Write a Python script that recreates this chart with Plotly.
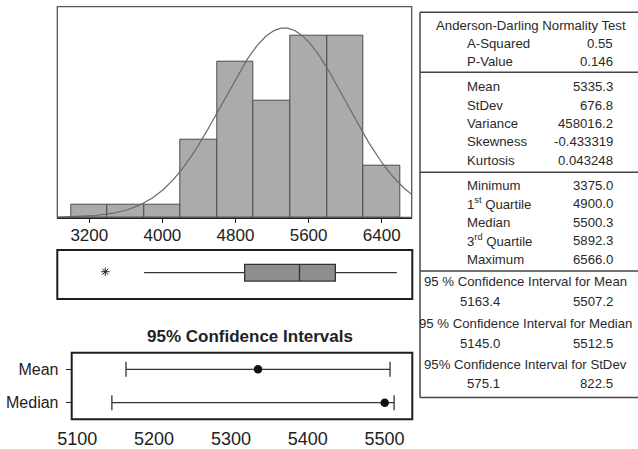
import numpy as np
import plotly.graph_objects as go

W, H = 638, 449

# ---------------- data ----------------
bin_centers = [3200, 3600, 4000, 4400, 4800, 5200, 5600, 6000, 6400]
bin_counts = [1, 1, 1, 6, 12, 9, 14, 14, 4]
bin_width = 400
hist_ticks = [3200, 4000, 4800, 5600, 6400]

n_obs = 62
mean_val = 5335.3
stdev_val = 676.8

box_q1 = 4900.0
box_median = 5500.3
box_q3 = 5892.3
box_lower_whisker = 3800.0
box_upper_whisker = 6566.0
box_outliers = [3375.0]

ci_labels = ["Mean", "Median"]
ci_center = [5335.3, 5500.3]
ci_low = [5163.4, 5145.0]
ci_high = [5507.2, 5512.5]
ci_ticks = [5100, 5200, 5300, 5400, 5500]

ad_title = "Anderson-Darling Normality Test"
ad_labels = ["A-Squared", "P-Value"]
ad_values = ["0.55", "0.146"]
moment_labels = ["Mean", "StDev", "Variance", "Skewness", "Kurtosis"]
moment_values = ["5335.3", "676.8", "458016.2", "-0.433319", "0.043248"]
quant_labels = ["Minimum", "1<sup>st</sup> Quartile", "Median", "3<sup>rd</sup> Quartile", "Maximum"]
quant_values = ["3375.0", "4900.0", "5500.3", "5892.3", "6566.0"]
ci_titles = ["95 % Confidence Interval for Mean",
             "95 % Confidence Interval for Median",
             "95% Confidence Interval for StDev"]
ci_table_low = ["5163.4", "5145.0", "575.1"]
ci_table_high = ["5507.2", "5512.5", "822.5"]

# ---------------- helpers ----------------
def px(x):
    return x / W

def py(y):
    return 1 - y / H

FONT = "Liberation Sans, Arial, sans-serif"
TXT = "#222222"

fig = go.Figure()

# histogram
fig.add_trace(go.Bar(
    x=bin_centers, y=bin_counts, width=bin_width,
    marker=dict(color="#ababab", line=dict(color="#4a4a4a", width=1)),
    xaxis="x", yaxis="y", showlegend=False, hoverinfo="skip"))

# fitted normal curve
xs = np.linspace(2850, 6730, 400)
ys = n_obs * bin_width * np.exp(-0.5 * ((xs - mean_val) / stdev_val) ** 2) / (stdev_val * np.sqrt(2 * np.pi))
fig.add_trace(go.Scatter(x=xs, y=ys, mode="lines", line=dict(color="#6a6a6a", width=1.2),
                         xaxis="x", yaxis="y", showlegend=False, hoverinfo="skip"))

# box plot
fig.add_trace(go.Box(
    y=[0], q1=[box_q1], median=[box_median], q3=[box_q3],
    lowerfence=[box_lower_whisker], upperfence=[box_upper_whisker],
    orientation="h", width=0.68, whiskerwidth=0,
    fillcolor="#8e8e8e", line=dict(color="#333333", width=1.3),
    xaxis="x2", yaxis="y2", showlegend=False, hoverinfo="skip"))
fig.add_trace(go.Scatter(
    x=box_outliers, y=[0.04] * len(box_outliers), mode="markers",
    marker=dict(symbol="asterisk-open", size=7, color="#222222", line=dict(color="#222222", width=1)),
    xaxis="x2", yaxis="y2", showlegend=False, hoverinfo="skip"))

# CI plot
fig.add_trace(go.Scatter(
    x=ci_center, y=ci_labels, mode="markers",
    marker=dict(color="#111111", size=8.5),
    error_x=dict(type="data", symmetric=False,
                 array=[h - c for h, c in zip(ci_high, ci_center)],
                 arrayminus=[c - l for c, l in zip(ci_center, ci_low)],
                 color="#333333", thickness=1.3, width=7.5),
    xaxis="x3", yaxis="y3", showlegend=False, hoverinfo="skip"))

shapes = []
# frames
shapes.append(dict(type="rect", xref="paper", yref="paper",
                   x0=px(57.3), x1=px(411.7), y0=py(217.3), y1=py(6.7),
                   line=dict(color="#555555", width=1.3)))
shapes.append(dict(type="rect", xref="paper", yref="paper",
                   x0=px(57.3), x1=px(412.3), y0=py(299), y1=py(250),
                   line=dict(color="#1e1e1e", width=2)))
shapes.append(dict(type="rect", xref="paper", yref="paper",
                   x0=px(71.7), x1=px(412.3), y0=py(419.3), y1=py(352.7),
                   line=dict(color="#1e1e1e", width=2)))
# table lines
TL = "#444444"
shapes.append(dict(type="line", xref="paper", yref="paper", x0=px(420), x1=px(420),
                   y0=py(397.5), y1=py(12.3), line=dict(color=TL, width=1.5)))
for yy in [12.3, 72.3, 172.3, 271, 397.5]:
    shapes.append(dict(type="line", xref="paper", yref="paper", x0=px(420), x1=px(645),
                       y0=py(yy), y1=py(yy), line=dict(color=TL, width=1.5)))

ann = []
TFS = 13.2
def txt(x, y, s, anchor="left", size=TFS, bold=False, color="#2a2a2a"):
    ann.append(dict(x=px(x), y=py(y), xref="paper", yref="paper", text=("<b>%s</b>" % s) if bold else s,
                    showarrow=False, xanchor=anchor, yanchor="middle",
                    font=dict(family=FONT, size=size, color=color)))

LX, RX = 465.5, 614.5
txt(531, 25, ad_title, "center")
for i, (l, v) in enumerate(zip(ad_labels, ad_values)):
    txt(LX, 43.5 + 18.5 * i, l)
    txt(RX, 43.5 + 18.5 * i, v, "right")
for i, (l, v) in enumerate(zip(moment_labels, moment_values)):
    txt(LX, 86.5 + 18.5 * i, l)
    txt(RX, 86.5 + 18.5 * i, v, "right")
for i, (l, v) in enumerate(zip(quant_labels, quant_values)):
    txt(LX, 185 + 18.5 * i, l)
    txt(RX, 185 + 18.5 * i, v, "right")
ci_title_y = [281.5, 323.5, 364]
for i in range(3):
    txt(525, ci_title_y[i], ci_titles[i], "center")
    txt(502.3, ci_title_y[i] + 19.5, ci_table_low[i], "right")
    txt(RX, ci_title_y[i] + 19.5, ci_table_high[i], "right")

txt(250, 336, "95% Confidence Intervals", "center", size=17, bold=True, color="#222")

fig.update_layout(
    template="none",
    width=W, height=H,
    margin=dict(l=0, r=0, t=0, b=0, pad=0),
    paper_bgcolor="white", plot_bgcolor="white",
    font=dict(family=FONT, color=TXT),
    bargap=0,
    xaxis=dict(domain=[px(57.3), px(411.7)], range=[2850, 6728], anchor="y", automargin=False,
               tickvals=hist_ticks, ticks="outside", ticklen=4, tickwidth=1, tickcolor="#222",
               showline=True, linewidth=2, linecolor="#222", showgrid=False, zeroline=False,
               ticklabelstandoff=-3, tickfont=dict(size=17, color=TXT)),
    yaxis=dict(domain=[py(217.3), py(6.7)], range=[0, 16.26], visible=False, automargin=False),
    xaxis2=dict(domain=[px(57.3), px(411.7)], range=[2850, 6728], anchor="y2", automargin=False,
                showticklabels=False, ticks="", showgrid=False, zeroline=False, showline=False),
    yaxis2=dict(domain=[py(299), py(250)], range=[-1.073, 0.927], visible=False, automargin=False),
    xaxis3=dict(domain=[px(71.7), px(412.3)], range=[5092.7, 5536.2], anchor="y3", automargin=False,
                tickvals=ci_ticks, ticks="", showgrid=False, zeroline=False, showline=False,
                ticklabelstandoff=7, tickfont=dict(size=18, color=TXT)),
    yaxis3=dict(domain=[py(419.3), py(352.7)], type="category", automargin=False,
                categoryorder="array", categoryarray=["Median", "Mean"], range=[-0.5, 1.5],
                anchor="x3", ticks="outside", ticklen=5, tickwidth=1, tickcolor="#222",
                showgrid=False, zeroline=False, showline=False,
                ticklabelstandoff=4, tickfont=dict(size=16, color=TXT)),
    shapes=shapes, annotations=ann,
)

fig.write_html("out.html", config={"displayModeBar": False},
               post_script="document.body.style.margin='0';document.body.style.overflow='hidden';")
